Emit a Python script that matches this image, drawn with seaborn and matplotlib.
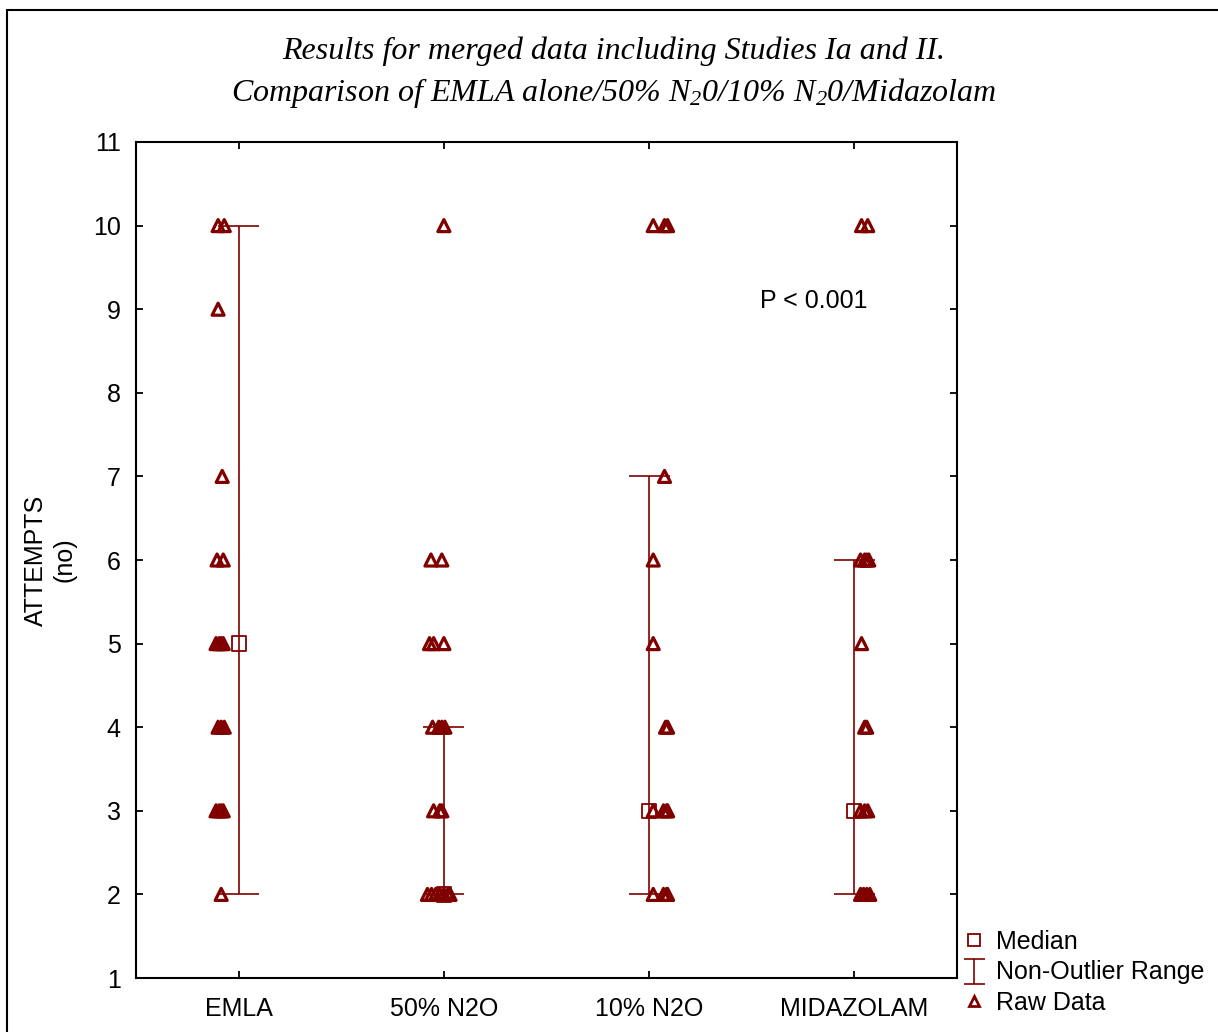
import numpy as np
import pandas as pd
import matplotlib
matplotlib.use("Agg")
import matplotlib.pyplot as plt
from matplotlib.lines import Line2D
from matplotlib.path import Path
from matplotlib.patches import Rectangle
import seaborn as sns

# ---------------- data ----------------
categories = ["EMLA", "50% N2O", "10% N2O", "MIDAZOLAM"]

emla_values = [10, 10, 9, 7, 6, 6, 5, 5, 5, 5, 4, 4, 4, 3, 3, 3, 3, 2]
emla_jitter = [-0.10, -0.07, -0.10, -0.08, -0.105, -0.075, -0.11, -0.095, -0.085, -0.075,
               -0.10, -0.085, -0.07, -0.11, -0.095, -0.085, -0.075, -0.085]

n50_values = [10, 6, 6, 5, 5, 5, 4, 4, 4, 4, 3, 3, 3, 2, 2, 2, 2, 2, 2, 2]
n50_jitter = [0.0, -0.063, -0.01, -0.07, -0.05, 0.0, -0.055, -0.025, -0.01, 0.005,
              -0.05, -0.02, -0.01, -0.08, -0.06, -0.04, -0.02, 0.0, 0.02, 0.03]

n10_values = [10, 10, 10, 7, 6, 5, 4, 4, 3, 3, 3, 3, 2, 2, 2, 2]
n10_jitter = [0.02, 0.075, 0.09, 0.075, 0.02, 0.02, 0.08, 0.09,
              0.02, 0.07, 0.085, 0.09, 0.02, 0.07, 0.085, 0.09]

mid_values = [10, 10, 6, 6, 6, 6, 5, 4, 4, 3, 3, 3, 2, 2, 2, 2]
mid_jitter = [0.035, 0.065, 0.03, 0.05, 0.06, 0.07, 0.035, 0.05, 0.06,
              0.03, 0.05, 0.065, 0.03, 0.045, 0.06, 0.075]

medians = [5, 2, 3, 3]
range_low = [2, 2, 2, 2]
range_high = [10, 4, 7, 6]

y_ticks = list(range(1, 12))
p_text = "P < 0.001"
title_line1 = "Results for merged data including Studies Ia and II."
title_line2 = "Comparison of EMLA alone/50% N$_2$0/10% N$_2$0/Midazolam"

# ---------------- build table ----------------
groups = [(emla_values, emla_jitter), (n50_values, n50_jitter),
          (n10_values, n10_jitter), (mid_values, mid_jitter)]
rows = []
for gi, (vals, jit) in enumerate(groups):
    for v, j in zip(vals, jit):
        rows.append({"group": gi, "x": gi + j, "value": v})
raw = pd.DataFrame(rows)
stats = pd.DataFrame({"x": range(len(categories)), "median": medians,
                      "low": range_low, "high": range_high})

# ---------------- style ----------------
sns.set_theme(style="ticks")
plt.rcParams["font.family"] = ["Liberation Sans", "DejaVu Sans"]
plt.rcParams["text.color"] = "black"
plt.rcParams["axes.labelcolor"] = "black"
plt.rcParams["xtick.color"] = "black"
plt.rcParams["ytick.color"] = "black"
plt.rcParams["mathtext.fontset"] = "custom"
plt.rcParams["mathtext.rm"] = "Liberation Serif:italic"
plt.rcParams["mathtext.it"] = "Liberation Serif:italic"
plt.rcParams["mathtext.default"] = "it"

DARK = "#800000"

fig = plt.figure(figsize=(12.18, 10.32), dpi=100)
fig.patch.set_facecolor("white")
ax = fig.add_axes([136 / 1218, 1 - 978 / 1032, (957 - 136) / 1218, (978 - 142) / 1032])

# whiskers (non-outlier range)
ax.vlines(stats["x"], stats["low"], stats["high"], color=DARK, lw=1.2)
ax.hlines(stats["low"], stats["x"] - 0.1, stats["x"] + 0.1, color=DARK, lw=1.2)
ax.hlines(stats["high"], stats["x"] - 0.1, stats["x"] + 0.1, color=DARK, lw=1.2)

# median squares
sns.scatterplot(data=stats, x="x", y="median", marker="s", s=105,
                facecolor="none", edgecolor=DARK, linewidth=1.3, ax=ax, zorder=3)

# raw data triangles
sns.scatterplot(data=raw, x="x", y="value", marker="^", s=75,
                facecolor="none", edgecolor=DARK, linewidth=2.3, ax=ax, zorder=4)

ax.set_xlim(-0.5, len(categories) - 0.5)
ax.set_ylim(1, 11)
ax.set_xticks(range(len(categories)))
ax.set_xticklabels(categories)
ax.set_yticks(y_ticks)
ax.set_xlabel("")
ax.set_ylabel("ATTEMPTS\n(no)", fontsize=18, labelpad=12, multialignment="center")
ax.tick_params(axis="both", direction="in", length=5, width=1.3, labelsize=18,
               top=True, right=True, colors="black")
ax.tick_params(axis="x", pad=14)
ax.tick_params(axis="y", pad=11)
for sp in ax.spines.values():
    sp.set_visible(True)
    sp.set_linewidth(1.5)
    sp.set_color("black")

ax.text(2.54, 9.1, p_text, fontsize=18, ha="left", va="center")

# title
fig.text(614 / 1218, 1 - 51 / 1032, title_line1, ha="center", va="center",
         fontsize=23, family="Liberation Serif", style="italic")
fig.text(614 / 1218, 1 - 93 / 1032, title_line2, ha="center", va="center",
         fontsize=23, family="Liberation Serif", style="italic")

# legend
ibeam = Path([(-0.42, 0.5), (0.42, 0.5), (0, 0.5), (0, -0.5), (-0.42, -0.5), (0.42, -0.5)],
             [Path.MOVETO, Path.LINETO, Path.MOVETO, Path.LINETO, Path.MOVETO, Path.LINETO])
handles = [
    Line2D([], [], marker="s", ls="none", ms=8.5, mfc="none", mec=DARK, mew=1.3),
    Line2D([], [], marker=ibeam, ls="none", ms=18, mfc="none", mec=DARK, mew=1.2),
    Line2D([], [], marker="^", ls="none", ms=7, mfc="none", mec=DARK, mew=2.0),
]
fig.legend(handles, ["Median", "Non-Outlier Range", "Raw Data"],
           loc="upper left", bbox_to_anchor=(963 / 1218, 1 - 930 / 1032),
           frameon=False, fontsize=18, handlelength=0.9, handletextpad=0.4,
           labelspacing=0.26, borderpad=0, borderaxespad=0)

# figure border
fig.patches.append(Rectangle((7 / 1218, -0.05), 1.2, 1 - 10 / 1032 + 0.05,
                             transform=fig.transFigure, fill=False,
                             edgecolor="black", lw=1.5, zorder=10))

fig.savefig("out.png", dpi=100, facecolor="white")
